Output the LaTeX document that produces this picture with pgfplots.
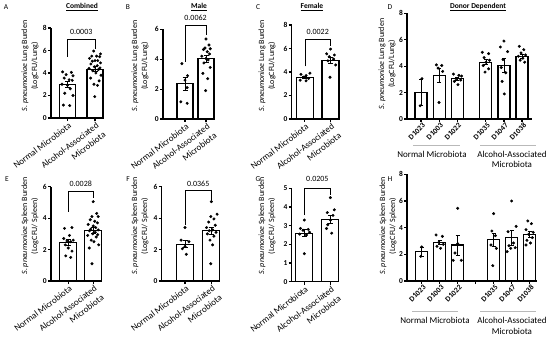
\documentclass[border=0pt]{standalone}
\usepackage{pgfplots}
\pgfplotsset{compat=1.18}
\usepackage{fontspec}
\setmainfont{Carlito}

\pgfplotsset{
  base/.style={
    scale only axis,
    axis lines*=left,
    axis line style={line width=1.1pt},
    tick align=outside,
    major tick length=3pt,
    tick style={line width=1.1pt, black},
    enlargelimits=false,
    clip=false,
    ymin=0,
    /pgf/number format/assume math mode=true,
    yticklabel style={font=\fontsize{7.5}{8}\selectfont\bfseries, inner sep=1pt},
  },
  panel/.style={
    base,
    xtick={1,2},
    xticklabels={Normal Microbiota,{Alcohol-Associated\\Microbiota}},
    xticklabel style={font=\fontsize{9}{11.5}\selectfont, rotate=37, anchor=north east, align=right, inner sep=1pt, xshift=1pt},
  },
  donor/.style={
    base,
    xticklabel style={font=\fontsize{7.5}{8}\selectfont\bfseries, rotate=45, anchor=north east, inner sep=1pt, xshift=1.5pt},
  },
  barp/.style 2 args={ybar, bar width=#1, fill=white, draw=black, line width=1.1pt,
    error bars/.cd, y dir=both, y explicit,
    error bar style={line width=0.8pt},
    error mark options={rotate=90, mark size=#2, line width=0.8pt}},
  dots/.style={only marks, mark=*, mark size=1.3pt, black},
}
\newcommand{\pval}[2]{\node[font=\fontsize{8}{9}\selectfont] at (axis cs:1.5,#1) {#2};}
\newcommand{\brk}[3]{\draw[line width=0.6pt] (axis cs:1,#1) |- (axis cs:2,#2) -- (axis cs:2,#3);}

\begin{document}
\begin{tikzpicture}[x=1pt,y=1pt]
\path[use as bounding box] (0,0) rectangle (550,338);

% ---------- letters and titles ----------
\begin{scope}[every node/.style={font=\fontsize{7.5}{9}\selectfont}]
\node at (6,331) {A};
\node at (128,331) {B};
\node at (258,331) {C};
\node at (390,331) {D};
\node at (7,159) {E};
\node at (128,159) {F};
\node at (258,159) {G};
\node at (390,159) {H};
\node at (82,331) {\bfseries\underline{Combined}};
\node at (199,331) {\bfseries\underline{Male}};
\node at (312,331) {\bfseries\underline{Female}};
\node at (478,331) {\bfseries\underline{Donor Dependent}};
\end{scope}

% ---------- y labels ----------
\begin{scope}[every node/.style={rotate=90, align=center, font=\fontsize{8}{10}\selectfont}]
\node at (30,272) {\textit{S. pneumoniae} Lung Burden\\(LogCFU/Lung)};
\node at (140,272) {\textit{S. pneumoniae} Lung Burden\\(LogCFU/Lung)};
\node at (267,272) {\textit{S. pneumoniae} Lung Burden\\(LogCFU/Lung)};
\node at (387,274) {\textit{S. pneumoniae} Lung Burden\\(LogCFU/Lung)};
\node at (30,112) {\textit{S. pneumoniae} Spleen Burden\\(LogCFU/ Spleen)};
\node at (140,112) {\textit{S. pneumoniae} Spleen Burden\\(LogCFU/ Spleen)};
\node at (267,112) {\textit{S. pneumoniae} Spleen Burden\\(LogCFU/ Spleen)};
\node at (388,112) {\textit{S. pneumoniae} Spleen Burden\\(LogCFU/ Spleen)};
\end{scope}

% ---------- group labels ----------
\draw[gray!55, line width=0.6pt] (413,192.3) -- (460,192.3) (480,192.3) -- (536,192.3);
\draw[gray!55, line width=0.6pt] (412,26.3) -- (458,26.3) (480,26.3) -- (536,26.3);
\begin{scope}[every node/.style={align=center, font=\fontsize{9}{10.7}\selectfont}]
\node at (432,184) {Normal Microbiota};
\node at (512,178.7) {Alcohol-Associated\\Microbiota};
\node at (435,17.3) {Normal Microbiota};
\node at (512,11.8) {Alcohol-Associated\\Microbiota};
\end{scope}

% ---------- Panel A ----------
\begin{axis}[panel, at={(51pt,220pt)}, anchor=south west, width=52pt, height=90pt,
  xmin=0.4, xmax=2.29, ymax=8, ytick={0,2,4,6,8}]
\addplot[barp={16pt}{2.5pt}] coordinates {(1,2.95) +- (0,0.27) (2,4.35) +- (0,0.2)};
\addplot[dots] coordinates {(0.82,4.1) (1.14,4.05) (0.95,3.85) (1.2,3.75) (0.88,3.55) (1.06,3.4) (1.17,3.35) (0.8,3.0) (1.0,2.9) (1.1,2.6) (0.9,2.2) (1.2,2.0) (0.85,1.15) (1.08,1.1)};
\addplot[dots] coordinates {(1.95,5.95) (2.2,5.7) (1.88,5.5) (2.06,5.5) (2.17,5.45) (1.8,5.3) (2.0,5.1) (2.1,5.1) (1.9,5.05) (2.2,4.9) (1.85,4.8) (2.08,4.65) (1.98,4.55) (2.18,4.45) (1.78,4.4) (2.12,4.3) (1.92,4.2) (2.03,4.0) (2.22,3.8) (1.84,3.55) (2.15,3.3) (1.96,3.0) (2.09,2.9) (1.99,1.9)};
\brk{5.45}{6.96}{6.16}
\pval{7.67}{0.0003}
\end{axis}

% ---------- Panel B ----------
\begin{axis}[panel, at={(163pt,219pt)}, anchor=south west, width=51pt, height=89.7pt,
  xmin=-0.05, xmax=2.38, ymax=6, ytick={0,2,4,6}]
\addplot[barp={16pt}{2.5pt}] coordinates {(1,2.35) +- (0,0.45) (2,4.02) +- (0,0.23)};
\addplot[dots] coordinates {(0.85,3.7) (1.12,2.9) (1.0,2.6) (1.1,2.1) (0.8,1.15) (1.1,1.05)};
\addplot[dots] coordinates {(2.0,5.35) (2.14,4.95) (1.95,4.75) (2.2,4.7) (1.88,4.65) (2.06,4.5) (2.17,4.35) (1.8,4.2) (2.0,4.05) (2.1,3.95) (1.9,3.75) (2.2,3.45) (1.85,3.05) (2.08,2.7) (1.98,1.9)};
\brk{3.83}{6.29}{5.62}
\pval{6.8}{0.0062}
\end{axis}

% ---------- Panel C ----------
\begin{axis}[panel, at={(291.7pt,219pt)}, anchor=south west, width=47.3pt, height=94pt,
  xmin=0.49, xmax=2.33, ymax=8, ytick={0,2,4,6,8}]
\addplot[barp={17pt}{2.5pt}] coordinates {(1,3.55) +- (0,0.09) (2,5.0) +- (0,0.26)};
\addplot[dots] coordinates {(1.2,3.9) (0.85,3.8) (1.05,3.7) (0.95,3.55) (1.15,3.45) (0.82,3.3) (1.05,3.25)};
\addplot[dots] coordinates {(2.0,5.95) (1.85,5.55) (2.15,5.45) (1.95,5.3) (2.12,5.1) (1.9,4.95) (2.2,4.6) (1.98,3.55)};
\brk{4.47}{6.78}{6.21}
\pval{7.38}{0.0022}
\end{axis}

% ---------- Panel D ----------
\begin{axis}[donor, at={(407pt,219pt)}, anchor=south west, width=125pt, height=105.7pt,
  xmin=0.222, xmax=7.156, ymax=8, ytick={0,2,4,6,8},
  xtick={1,2,3,4.6,5.6,6.6}, xticklabels={D1023,D1003,D1022,D1035,D1047,D1038}]
\addplot[barp={12pt}{2pt}] coordinates {(1,2.0) +- (0,1.0) (2,3.3) +- (0,0.55) (3,3.05) +- (0,0.1) (4.6,4.3) +- (0,0.19) (5.6,4.05) +- (0,0.5) (6.6,4.75) +- (0,0.14)};
\addplot[dots] coordinates {(1.05,3.05) (0.95,1.0)
 (1.85,4.1) (2.15,4.05) (1.95,3.85) (2.2,3.6) (2.0,1.25)
 (2.8,3.4) (3.1,3.3) (3.25,3.25) (2.95,3.05) (3.2,2.95) (2.85,2.85) (3.05,2.6)
 (4.4,5.05) (4.75,4.95) (4.5,4.65) (4.8,4.45) (4.6,4.3) (4.45,4.05) (4.75,3.8) (4.55,3.55)
 (5.6,5.9) (5.4,5.45) (5.8,5.1) (5.55,4.5) (5.45,3.9) (5.7,3.5) (5.5,2.85) (5.62,1.9)
 (6.45,5.5) (6.7,5.25) (6.55,5.0) (6.8,4.85) (6.4,4.75) (6.65,4.6) (6.5,4.45) (6.75,4.3)};
\end{axis}

% ---------- Panel E ----------
\begin{axis}[panel, at={(51pt,57pt)}, anchor=south west, width=50.7pt, height=94.3pt,
  xmin=0.31, xmax=2.34, ymax=6, ytick={0,2,4,6}]
\addplot[barp={16.7pt}{2.5pt}] coordinates {(1,2.45) +- (0,0.17) (2,3.22) +- (0,0.17)};
\addplot[dots] coordinates {(1.15,3.4) (0.85,3.35) (1.05,2.9) (0.82,2.7) (1.2,2.6) (0.95,2.55) (1.1,2.5) (0.88,2.3) (1.0,2.1) (1.15,1.9) (0.9,1.6) (1.1,1.5)};
\addplot[dots] coordinates {(2.0,5.05) (2.14,4.3) (1.95,4.1) (2.2,4.1) (1.88,3.9) (2.06,3.8) (2.17,3.7) (1.8,3.6) (2.0,3.5) (2.1,3.4) (1.9,3.3) (2.2,3.25) (1.85,3.2) (2.08,3.1) (1.98,3.0) (2.18,2.95) (1.78,2.9) (2.12,2.8) (1.92,2.6) (2.03,2.5) (2.22,2.3) (1.84,2.1) (1.95,1.1)};
\brk{4.4}{5.68}{5.26}
\pval{6.2}{0.0028}
\end{axis}

% ---------- Panel F ----------
\begin{axis}[panel, at={(161.7pt,57pt)}, anchor=south west, width=58.3pt, height=94.3pt,
  xmin=0.114, xmax=2.33, ymax=6, ytick={0,2,4,6}]
\addplot[barp={17pt}{2.5pt}] coordinates {(1,2.35) +- (0,0.24) (2,3.2) +- (0,0.24)};
\addplot[dots] coordinates {(1.0,3.4) (0.85,2.6) (1.15,2.5) (1.0,2.2) (0.9,2.05) (1.05,1.7)};
\addplot[dots] coordinates {(2.0,5.05) (2.22,4.25) (1.98,4.1) (2.1,3.95) (1.9,3.75) (2.15,3.55) (1.82,3.4) (2.05,3.25) (1.92,3.2) (2.18,3.1) (1.85,3.0) (2.1,2.85) (1.95,2.6) (2.05,2.3) (1.98,1.1)};
\brk{3.56}{5.79}{5.15}
\pval{6.2}{0.0365}
\end{axis}

% ---------- Panel G ----------
\begin{axis}[panel, at={(291.7pt,56.3pt)}, anchor=south west, width=47.3pt, height=93.4pt,
  xmin=0.515, xmax=2.33, ymax=5, ytick={0,1,2,3,4,5}]
\addplot[barp={17pt}{2.5pt}] coordinates {(1,2.6) +- (0,0.18) (2,3.35) +- (0,0.22)};
\addplot[dots] coordinates {(1.0,3.3) (0.85,2.85) (1.15,2.8) (0.95,2.75) (1.2,2.65) (0.82,2.55) (1.08,2.5) (1.0,1.5)};
\addplot[dots] coordinates {(2.0,4.5) (2.15,3.85) (1.88,3.7) (2.1,3.55) (2.0,3.3) (1.9,3.05) (1.85,2.85) (2.05,2.6)};
\brk{3.57}{5.0}{4.64}
\pval{5.48}{0.0205}
\end{axis}

% ---------- Panel H ----------
\begin{axis}[donor, at={(407pt,57pt)}, anchor=south west, width=130pt, height=106.7pt,
  xmin=0.183, xmax=7.41, ymax=8, ytick={0,2,4,6,8},
  xtick={1,2,3,4,5,6,7}, xticklabels={D1023,D1003,D1022,,D1035,D1047,D1038}]
\addplot[barp={12pt}{2pt}] coordinates {(1,2.2) +- (0,0.35) (2,2.9) +- (0,0.16) (3,2.7) +- (0,0.75) (5,3.08) +- (0,0.5) (6,3.25) +- (0,0.55) (7,3.5) +- (0,0.2)};
\addplot[dots] coordinates {(1.0,2.55) (0.95,1.85)
 (1.8,3.45) (2.15,3.35) (1.95,2.9) (2.2,2.75) (1.85,2.6) (2.05,2.45)
 (3.0,5.45) (3.0,2.8) (2.85,2.1) (2.75,1.55) (3.2,1.55)
 (5.0,5.05) (4.9,3.75) (5.1,3.4) (4.85,2.7) (5.15,2.45) (4.95,1.15)
 (6.0,6.0) (6.25,4.1) (5.8,3.7) (6.1,2.85) (5.85,2.65) (6.2,2.5) (5.95,2.45) (5.75,2.2)
 (6.9,4.5) (7.1,4.3) (6.8,3.85) (7.2,3.65) (6.95,3.5) (7.15,3.25) (6.85,3.05) (7.05,2.85) (6.8,2.7)};
\end{axis}
\end{tikzpicture}
\end{document}
